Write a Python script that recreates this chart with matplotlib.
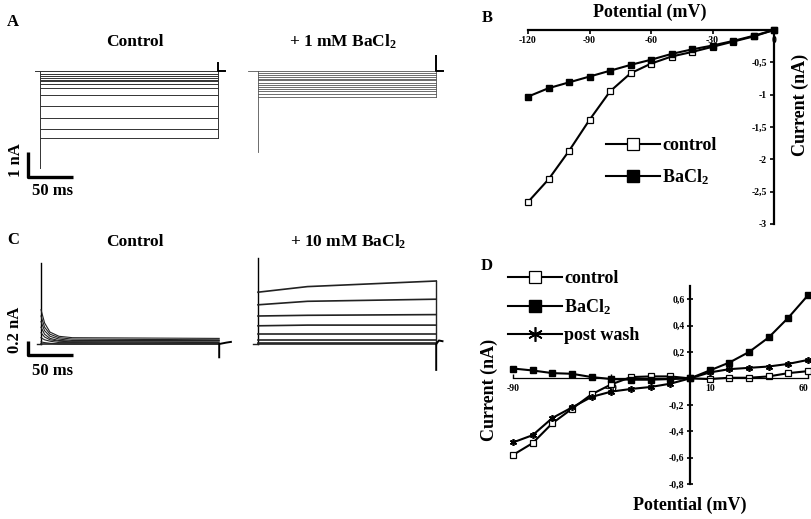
import matplotlib
matplotlib.use('Agg')
import matplotlib.pyplot as plt

plt.rcParams['font.family'] = ['Liberation Serif', 'DejaVu Serif']
plt.rcParams['font.weight'] = 'bold'
plt.rcParams['mathtext.default'] = 'regular'

# ---- data ----
# panel B: steady-state I-V, 1 mM BaCl2
b_volts = [-120, -110, -100, -90, -80, -70, -60, -50, -40, -30, -20, -10, 0]
b_control = [-2.66, -2.31, -1.87, -1.39, -0.95, -0.67, -0.52, -0.41, -0.34, -0.26, -0.18, -0.10, 0.0]
b_bacl2 = [-1.03, -0.90, -0.81, -0.72, -0.63, -0.54, -0.46, -0.37, -0.30, -0.24, -0.17, -0.09, 0.0]
b_xticks = [-120, -90, -60, -30, 0]
b_yticks = [-0.5, -1, -1.5, -2, -2.5, -3]
b_yticklabels = ['-0,5', '-1', '-1,5', '-2', '-2,5', '-3']

# panel D: I-V, 10 mM BaCl2
d_volts = [-90, -80, -70, -60, -50, -40, -30, -20, -10, 0, 10, 20, 30, 40, 50, 60]
d_control = [-0.58, -0.49, -0.34, -0.23, -0.12, -0.045, 0.01, 0.015, 0.015, 0.0,
             -0.005, 0.005, 0.005, 0.015, 0.04, 0.055]
d_bacl2 = [0.075, 0.06, 0.04, 0.035, 0.01, -0.005, -0.01, -0.01, -0.005, 0.0,
           0.06, 0.12, 0.20, 0.31, 0.46, 0.63]
d_postwash = [-0.485, -0.43, -0.30, -0.22, -0.14, -0.10, -0.08, -0.065, -0.04, 0.0,
              0.045, 0.07, 0.08, 0.09, 0.11, 0.14]
d_xticks = [-90, -40, 10, 60]
d_yticks = [-0.8, -0.6, -0.4, -0.2, 0.2, 0.4, 0.6]
d_yticklabels = ['-0,8', '-0,6', '-0,4', '-0,2', '0,2', '0,4', '0,6']

# current traces (nA) - step length in ms
step_ms = 198
a_ctrl_spike = -3.88
a_ba_spike = -3.24
a_ctrl_tail_t = [198, 198, 206]
a_ctrl_tail_i = [0.32, 0.0, 0.0]
a_ba_tail_t = [198, 198, 205]
a_ba_tail_i = [0.64, 0.0, 0.0]

c_ctrl_t = [0, 4, 10, 20, 35, 198]
c_ctrl_traces = [
    [0.49, 0.30, 0.17, 0.11, 0.09, 0.08],
    [0.40, 0.24, 0.14, 0.09, 0.07, 0.06],
    [0.32, 0.19, 0.11, 0.07, 0.05, 0.05],
    [0.24, 0.14, 0.08, 0.05, 0.04, 0.04],
    [0.16, 0.10, 0.06, 0.04, 0.03, 0.02],
    [0.09, 0.06, 0.04, 0.02, 0.02, 0.01],
    [0.03, 0.02, 0.01, 0.00, 0.00, 0.00],
]
c_ctrl_spike = 1.16
c_ctrl_tail_t = [198, 198, 198, 206, 211]
c_ctrl_tail_i = [-0.19, 0.0, 0.0, 0.02, 0.03]

c_ba_t = [0, 55, 198]
c_ba_traces = [
    [0.74, 0.82, 0.90],
    [0.56, 0.61, 0.64],
    [0.40, 0.41, 0.42],
    [0.26, 0.27, 0.27],
    [0.14, 0.14, 0.14],
    [0.06, 0.06, 0.06],
    [0.02, 0.02, 0.02],
]
c_ba_spike = 1.23
c_ba_tail_t = [198, 198, 198, 201, 205]
c_ba_tail_i = [-0.37, 0.0, 0.0, 0.05, 0.04]

# ---- figure ----
W, H = 811, 519
fig = plt.figure(figsize=(W / 100, H / 100), dpi=100)


def px_axes(left, top, right, bottom):
    return fig.add_axes([left / W, 1 - bottom / H, (right - left) / W, (bottom - top) / H])


def trace_axes(box, t0_px, base_px, px_per_ms, px_per_na):
    left, top, right, bottom = box
    ax = px_axes(*box)
    ax.set_xlim((left - t0_px) / px_per_ms, (right - t0_px) / px_per_ms)
    ax.set_ylim((base_px - bottom) / px_per_na, (base_px - top) / px_per_na)
    ax.axis('off')
    return ax


def fig_text(x, y, s, **kw):
    fig.text(x / W, 1 - y / H, s, **kw)


def draw_steps(ax, levels, spike, tail_t, tail_i, hold=6, lw=0.7, color='#333333'):
    ax.plot([-hold, 0], [0, 0], color=color, lw=lw)
    ax.plot([0, 0], [0, spike], color=color, lw=lw)
    for lev in levels:
        ax.plot([0, step_ms], [lev, lev], color=color, lw=lw)
    ax.plot([step_ms, step_ms], [min(levels), 0], color=color, lw=lw)
    ax.plot(tail_t, tail_i, color='black', lw=1.4)


def scale_bar(ax, t0, i0, dt, di):
    ax.plot([t0, t0, t0 + dt], [i0 + di, i0, i0], color='black', lw=2.4,
            solid_capstyle='butt', clip_on=False)


# panel A
ax_a1 = trace_axes((20, 55, 240, 185), 40, 71, 0.9, 25)
draw_steps(ax_a1, b_control, a_ctrl_spike, a_ctrl_tail_t, a_ctrl_tail_i)
scale_bar(ax_a1, -13.3, -4.24, 50, 1)

ax_a2 = trace_axes((240, 55, 460, 185), 258, 71, 0.9, 25)
draw_steps(ax_a2, b_bacl2, a_ba_spike, a_ba_tail_t, a_ba_tail_i, hold=11, lw=0.6, color='#555555')

# panel C
ax_c1 = trace_axes((20, 250, 240, 380), 41, 344, 0.9, 70)
ax_c1.plot([-5, 0], [0, 0], color='#222222', lw=1.0)
ax_c1.plot([0, 0], [0, c_ctrl_spike], color='black', lw=1.0)
ax_c1.plot([0, step_ms], [0, 0], color='#222222', lw=1.2)
for tr in c_ctrl_traces:
    ax_c1.plot(c_ctrl_t, tr, color='#222222', lw=0.8)
ax_c1.plot(c_ctrl_tail_t, c_ctrl_tail_i, color='black', lw=1.4)
scale_bar(ax_c1, -14.3, -0.16, 50, 0.2)

ax_c2 = trace_axes((240, 250, 460, 380), 258, 344, 0.9, 70)
ax_c2.plot([-6, 0], [0, 0], color='#222222', lw=1.0)
ax_c2.plot([0, 0], [0, c_ba_spike], color='black', lw=1.0)
ax_c2.plot([0, step_ms], [0, 0], color='#222222', lw=1.2)
for tr in c_ba_traces:
    ax_c2.plot(c_ba_t, tr, color='#222222', lw=1.2)
ax_c2.plot([step_ms, step_ms], [0, max(max(t) for t in c_ba_traces)], color='#222222', lw=1.0)
ax_c2.plot(c_ba_tail_t, c_ba_tail_i, color='black', lw=1.4)

# titles, panel letters, scale labels
title_kw = dict(fontsize=12.5, ha='center', va='center', fontweight='bold')
fig_text(135, 42, 'Control', **title_kw)
fig_text(343, 42, '+ 1 mM BaCl$_\\mathregular{2}$', **title_kw)
fig_text(135, 242, 'Control', **title_kw)
fig_text(348, 242, '+ 10 mM BaCl$_\\mathregular{2}$', **title_kw)
for x, y, s in [(13, 22, 'A'), (487, 18, 'B'), (13, 240, 'C'), (487, 266, 'D')]:
    fig_text(x, y, s, fontsize=12, ha='center', va='center', fontweight='bold')
fig_text(16, 160, '1 nA', fontsize=12, rotation=90, ha='center', va='center')
fig_text(52, 191, '50 ms', fontsize=12, ha='center', va='center')
fig_text(15, 330, '0.2 nA', fontsize=12, rotation=90, ha='center', va='center')
fig_text(52, 371, '50 ms', fontsize=12, ha='center', va='center')

line_kw = dict(color='black', lw=1.5, clip_on=False)

# panel B
ax_b = px_axes(528, 30, 774, 224)
ax_b.plot(b_volts, b_control, marker='s', ms=4, mfc='white', mec='black', mew=0.9,
          label='control', **line_kw)
ax_b.plot(b_volts, b_bacl2, marker='s', ms=4, mfc='black', mec='black',
          label='BaCl$_\\mathregular{2}$', **line_kw)
ax_b.set_xlim(-120, 0)
ax_b.set_ylim(-3, 0)
for side in ['left', 'bottom']:
    ax_b.spines[side].set_visible(False)
for side in ['top', 'right']:
    ax_b.spines[side].set_linewidth(1.6)
ax_b.set_xticks(b_xticks)
ax_b.set_xticklabels([str(v) for v in b_xticks])
ax_b.set_yticks(b_yticks)
ax_b.set_yticklabels(b_yticklabels)
ax_b.tick_params(axis='x', top=True, bottom=False, labeltop=True, labelbottom=False,
                 direction='in', length=3, width=1.2, pad=-4, labelsize=7)
ax_b.tick_params(axis='y', right=True, left=False, labelright=True, labelleft=False,
                 direction='in', length=3, width=1.2, pad=-5, labelsize=7)
for t in ax_b.xaxis.get_major_ticks():
    t.label2.set_verticalalignment('top')
for t in ax_b.yaxis.get_major_ticks():
    t.label2.set_horizontalalignment('right')
fig_text(650, 12, 'Potential (mV)', fontsize=13, ha='center', va='center')
fig_text(800, 105, 'Current (nA)', fontsize=13, rotation=90, ha='center', va='center')
ax_b.legend(loc='upper left', bbox_to_anchor=(606 / W, 1 - 137 / H), bbox_transform=fig.transFigure,
            frameon=False, fontsize=13, handlelength=3.0, handletextpad=0.1, labelspacing=0.75,
            borderpad=0, borderaxespad=0, markerscale=2.1)

# panel D
ax_d = px_axes(513, 286, 808, 484)
ax_d.plot(d_volts, d_control, marker='s', ms=4, mfc='white', mec='black', mew=0.9,
          label='control', **line_kw)
ax_d.plot(d_volts, d_bacl2, marker='s', ms=4, mfc='black', mec='black',
          label='BaCl$_\\mathregular{2}$', **line_kw)
ax_d.plot(d_volts, d_postwash, marker=(6, 2, 0), ms=5, mec='black', mew=1.2,
          label='post wash', **line_kw)
ax_d.set_xlim(-90, 60)
ax_d.set_ylim(-0.8, 0.7)
for side in ['top', 'right']:
    ax_d.spines[side].set_visible(False)
ax_d.spines['left'].set_position(('data', 0))
ax_d.spines['bottom'].set_position(('data', 0))
ax_d.spines['left'].set_linewidth(1.6)
ax_d.spines['bottom'].set_linewidth(0.9)
ax_d.set_xticks(d_xticks)
ax_d.set_xticklabels([str(v) for v in d_xticks])
ax_d.set_yticks(d_yticks)
ax_d.set_yticklabels(d_yticklabels)
ax_d.tick_params(axis='x', direction='in', length=3, width=1.0, pad=4, labelsize=7)
ax_d.tick_params(axis='y', direction='inout', length=4, width=1.2, pad=2, labelsize=7)
ax_d.xaxis.get_major_ticks()[-1].label1.set_horizontalalignment('right')
fig_text(690, 505, 'Potential (mV)', fontsize=13, ha='center', va='center')
fig_text(489, 390, 'Current (nA)', fontsize=13, rotation=90, ha='center', va='center')
ax_d.legend(loc='upper left', bbox_to_anchor=(508 / W, 1 - 270 / H), bbox_transform=fig.transFigure,
            frameon=False, fontsize=13, handlelength=3.0, handletextpad=0.1, labelspacing=0.56,
            borderpad=0, borderaxespad=0, markerscale=2.1)

fig.savefig('out.png', dpi=100)
